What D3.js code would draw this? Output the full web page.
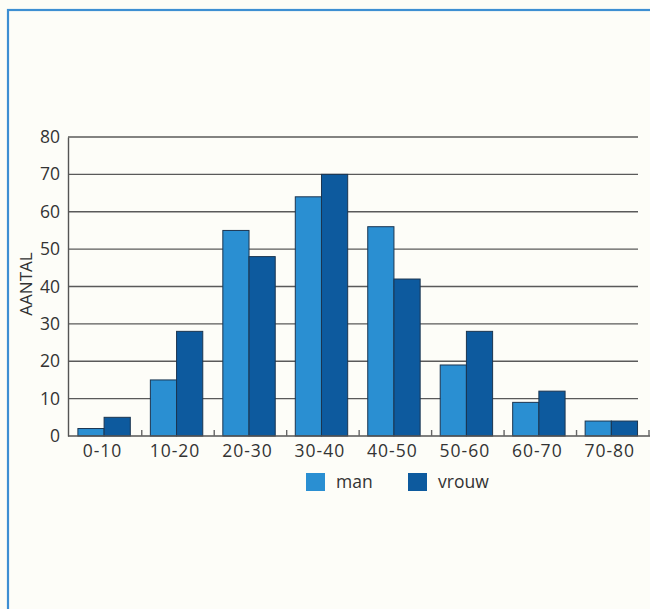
<!DOCTYPE html>
<html>
<head>
<meta charset="utf-8">
<script src="https://cdn.jsdelivr.net/npm/d3@7/dist/d3.min.js"></script>
<style>
  html, body { margin: 0; padding: 0; background: #fdfdf6; }
  svg { display: block; }
</style>
</head>
<body>
<script>
// Age groups and counts per sex
const categories = ["0-10", "10-20", "20-30", "30-40", "40-50", "50-60", "60-70", "70-80"];
const series = ["man", "vrouw"];
const manValues = [2, 15, 55, 64, 56, 19, 9, 4];
const vrouwValues = [5, 28, 48, 70, 42, 28, 12, 4];
const yTicks = [0, 10, 20, 30, 40, 50, 60, 70, 80];
const yLabel = "AANTAL";

const colors = { man: "#2a8fd2", vrouw: "#0d5a9e" };
const W = 650, H = 609;
const font = "'Open Sans', 'Noto Sans', sans-serif";
const fs = 17.5;

const rows = categories.map((c, i) => ({ cat: c, man: manValues[i], vrouw: vrouwValues[i] }));

const svg = d3.select("body").append("svg").attr("width", W).attr("height", H);

// Background and framing border
svg.append("rect").attr("width", W).attr("height", H).attr("fill", "#fdfdf6");
svg.append("rect")
  .attr("x", 8).attr("y", 10).attr("width", W + 20).attr("height", H + 20)
  .attr("fill", "#fdfdf8").attr("stroke", "#3d8fd2").attr("stroke-width", 2.2);

const axisX = 68, plotRight = 638;
const x = d3.scaleBand().domain(categories).range([69.3, 649]).padding(0);
const x1 = d3.scaleBand().domain(series).range([8.6, 61]).padding(0);
const y = d3.scaleLinear().domain([0, 80]).range([436, 137]);

// Horizontal gridlines
svg.append("g").selectAll("line").data(yTicks.filter(t => t > 0)).join("line")
  .attr("x1", axisX).attr("x2", plotRight)
  .attr("y1", d => y(d)).attr("y2", d => y(d))
  .attr("stroke", "#5a5a5a").attr("stroke-width", 1.4);

// Y axis tick labels
const yAxis = d3.axisLeft(y).tickValues(yTicks).tickSize(0).tickPadding(8);
const gy = svg.append("g").attr("transform", `translate(${axisX},0)`).call(yAxis);
gy.select(".domain").attr("stroke", "#555").attr("stroke-width", 1.4);
gy.selectAll("text").attr("font-family", font).attr("font-size", fs).attr("fill", "#333");

// Y axis title
svg.append("text")
  .attr("transform", `translate(32,284) rotate(-90)`)
  .attr("text-anchor", "middle")
  .attr("font-family", font).attr("font-size", 17).attr("fill", "#333")
  .text(yLabel);

// Bars
const groups = svg.append("g").selectAll("g").data(rows).join("g")
  .attr("transform", d => `translate(${x(d.cat)},0)`);
groups.selectAll("rect").data(d => series.map(s => ({ s, v: d[s] }))).join("rect")
  .attr("x", d => x1(d.s))
  .attr("width", x1.bandwidth())
  .attr("y", d => y(d.v))
  .attr("height", d => y(0) - y(d.v))
  .attr("fill", d => colors[d.s])
  .attr("stroke", "#1b3550").attr("stroke-width", 1);

// X axis baseline with small upward ticks between groups
const xAxis = d3.axisBottom(x).tickSize(0).tickPadding(9);
const gx = svg.append("g").attr("transform", `translate(0,${y(0)})`).call(xAxis);
gx.select(".domain").remove();
gx.selectAll("text").attr("font-family", font).attr("font-size", fs).attr("fill", "#333")
  .attr("letter-spacing", 1).attr("dx", -3);
svg.append("line").attr("x1", axisX).attr("x2", W).attr("y1", y(0)).attr("y2", y(0))
  .attr("stroke", "#555").attr("stroke-width", 1.4);
svg.append("g").selectAll("line").data(categories.slice(1).concat(["end"])).join("line")
  .attr("x1", (d, i) => x.range()[0] + (i + 1) * x.step())
  .attr("x2", (d, i) => x.range()[0] + (i + 1) * x.step())
  .attr("y1", y(0)).attr("y2", y(0) - 6)
  .attr("stroke", "#666").attr("stroke-width", 1.4);

// Legend
const legend = svg.append("g");
const legendPos = { man: 306, vrouw: 408 };
series.forEach(s => {
  legend.append("rect")
    .attr("x", legendPos[s]).attr("y", 473).attr("width", 19).attr("height", 18)
    .attr("fill", colors[s]);
  legend.append("text")
    .attr("x", legendPos[s] + 30).attr("y", 488)
    .attr("font-family", font).attr("font-size", fs).attr("fill", "#333")
    .text(s);
});
</script>
</body>
</html>
